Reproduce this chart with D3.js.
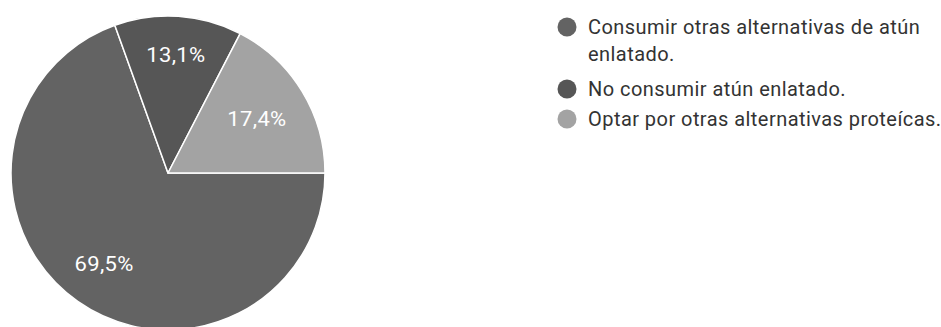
<!DOCTYPE html>
<html>
<head>
<meta charset="utf-8">
<script src="https://cdn.jsdelivr.net/npm/d3@7"></script>
<style>
  html, body { margin: 0; padding: 0; background: #fff; }
  svg { display: block; }
  text { font-family: Roboto, Arial, sans-serif; }
</style>
</head>
<body>
<svg id="chart" width="941" height="327"></svg>
<script>
// Survey answers and their shares (percent)
const categories = [
  "Consumir otras alternativas de atún enlatado.",
  "No consumir atún enlatado.",
  "Optar por otras alternativas proteícas."
];
const values = [69.5, 13.1, 17.4];
const valueLabels = ["69,5%", "13,1%", "17,4%"];

// Legend text broken into display lines
const legendLines = [
  ["Consumir otras alternativas de atún", "enlatado."],
  ["No consumir atún enlatado."],
  ["Optar por otras alternativas proteícas."]
];

// Appearance
const sliceColors = ["#636363", "#565656", "#a3a3a3"];
const labelRadiusRatio = [0.708, 0.756, 0.663];
const pieCenter = { x: 168, y: 173 };
const pieRadius = 157;
const fontSize = 20;

const svg = d3.select("#chart");

const pie = d3.pie()
  .sort(null)
  .value(d => d.value)
  .startAngle(Math.PI / 2)
  .endAngle(Math.PI / 2 + 2 * Math.PI);

const rows = categories.map((c, i) => ({ name: c, value: values[i], label: valueLabels[i], i }));
const arcs = pie(rows);

const arc = d3.arc().innerRadius(0).outerRadius(pieRadius);

const g = svg.append("g").attr("transform", `translate(${pieCenter.x},${pieCenter.y})`);

g.selectAll("path.slice")
  .data(arcs)
  .join("path")
  .attr("class", "slice")
  .attr("d", arc)
  .attr("fill", d => sliceColors[d.data.i])
  .attr("stroke", "#ffffff")
  .attr("stroke-width", 1.5)
  .attr("stroke-linejoin", "round");

g.selectAll("text.value")
  .data(arcs)
  .join("text")
  .attr("class", "value")
  .attr("transform", d => {
    const a = (d.startAngle + d.endAngle) / 2;
    const r = pieRadius * labelRadiusRatio[d.data.i];
    return `translate(${r * Math.sin(a)},${-r * Math.cos(a)}) scale(1.1,1)`;
  })
  .attr("text-anchor", "middle")
  .attr("dy", "0.36em")
  .attr("fill", "#ffffff")
  .attr("font-size", fontSize)
  .attr("letter-spacing", 0.3)
  .text(d => d.data.label);

// Legend
const legend = svg.append("g").attr("transform", "translate(567,0)");
const lineHeight = 27;
const entryTops = [27, 89, 119];

const items = legend.selectAll("g.item")
  .data(rows)
  .join("g")
  .attr("class", "item")
  .attr("transform", d => `translate(0,${entryTops[d.i]})`);

items.append("circle")
  .attr("r", 9.5)
  .attr("fill", d => sliceColors[d.i]);

items.append("text")
  .attr("x", 21)
  .attr("fill", "#333333")
  .attr("font-size", fontSize)
  .attr("letter-spacing", 0.45)
  .selectAll("tspan")
  .data(d => legendLines[d.i])
  .join("tspan")
  .attr("x", 21)
  .attr("y", (t, k) => k * lineHeight)
  .attr("dy", "0.36em")
  .text(t => t);
</script>
</body>
</html>
